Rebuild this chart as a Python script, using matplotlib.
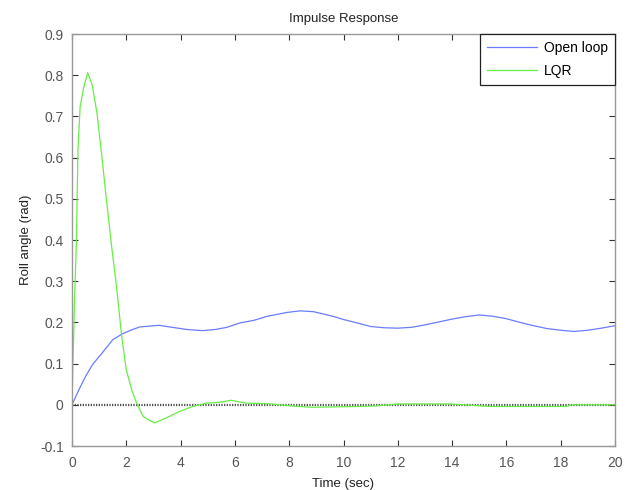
import matplotlib
matplotlib.use('Agg')
import matplotlib.pyplot as plt

plt.rcParams['font.family'] = ['Liberation Sans', 'DejaVu Sans']
plt.rcParams['axes.unicode_minus'] = False

# open loop roll response
t_open = [0, 0.25, 0.5, 0.75, 1.1, 1.5, 1.85, 2.2, 2.5, 3.2, 3.8, 4.2, 4.8, 5.3,
          5.7, 6.2, 6.7, 7.2, 7.9, 8.4, 8.9, 9.6, 10.0, 10.6, 11.0, 11.5, 12.0,
          12.5, 13.0, 13.5, 14.0, 14.5, 15.0, 15.5, 16.0, 16.5, 17.0, 17.5,
          18.0, 18.5, 19.0, 19.5, 20.0]
roll_open = [0, 0.036, 0.069, 0.097, 0.125, 0.158, 0.172, 0.182, 0.189, 0.193,
             0.187, 0.183, 0.180, 0.183, 0.188, 0.199, 0.205, 0.215, 0.224,
             0.228, 0.226, 0.215, 0.207, 0.197, 0.190, 0.187, 0.186, 0.188,
             0.194, 0.201, 0.208, 0.214, 0.218, 0.215, 0.209, 0.200, 0.192,
             0.185, 0.181, 0.178, 0.181, 0.186, 0.192]

# LQR closed loop roll response
t_lqr = [0, 0.02, 0.1, 0.16, 0.22, 0.3, 0.43, 0.58, 0.74, 0.92, 1.1, 1.28, 1.46,
         1.64, 1.83, 2.0, 2.2, 2.38, 2.62, 2.8, 3.04, 3.47, 3.96, 4.45, 4.94,
         5.43, 5.86, 6.41, 7.15, 8.13, 8.86, 10.58, 11.1, 12.0, 13.9, 15.4,
         18.2, 18.4, 20.0]
roll_lqr = [0, 0.06, 0.27, 0.39, 0.62, 0.724, 0.77, 0.806, 0.777, 0.708, 0.603,
            0.49, 0.384, 0.287, 0.166, 0.085, 0.036, 0.004, -0.028, -0.036,
            -0.044, -0.032, -0.016, -0.004, 0.004, 0.006, 0.011, 0.004, 0.003,
            -0.003, -0.006, -0.004, -0.003, 0.002, 0.002, -0.004, -0.004, 0.0,
            0.0]

x_ticks = list(range(0, 21, 2))
y_ticks = [-0.1, 0, 0.1, 0.2, 0.3, 0.4, 0.5, 0.6, 0.7, 0.8, 0.9]

fig = plt.figure(figsize=(6.32, 4.9), dpi=100)
ax = fig.add_axes([72 / 632, 44 / 490, 543 / 632, 412 / 490])

ax.plot(t_open, roll_open, color='#6a7cff', lw=0.9, label='Open loop')
ax.plot(t_lqr, roll_lqr, color='#66ee44', lw=0.9, label='LQR')
ax.axhline(0, color='#555555', lw=1.6, ls=(0, (0.6, 0.6)), zorder=1)

ax.set_xlim(0, 20)
ax.set_ylim(-0.1, 0.9)
ax.set_xticks(x_ticks)
ax.set_yticks(y_ticks)
ax.set_xticklabels([f'{v:g}' for v in x_ticks])
ax.set_yticklabels([f'{v:g}' for v in y_ticks])
ax.tick_params(direction='in', length=4, width=0.8, color='#333333',
               labelcolor='#555555', labelsize=10, top=True, right=True)
ax.tick_params(axis='x', pad=7)
ax.tick_params(axis='y', pad=6)
for sp in ax.spines.values():
    sp.set_color('#999999')
    sp.set_linewidth(1.0)

ax.set_title('Impulse Response', fontsize=9.5, color='#222222', pad=9)
ax.set_xlabel('Time (sec)', fontsize=9.5, color='#222222', labelpad=6)
ax.set_ylabel('Roll angle (rad)', fontsize=9.5, color='#222222', labelpad=6)

leg = ax.legend(loc='upper right', fontsize=10, fancybox=False,
                framealpha=1, edgecolor='#222222', borderaxespad=0,
                handlelength=3.6, handletextpad=0.5, borderpad=0.5,
                labelspacing=0.65)
leg.get_frame().set_linewidth(0.9)

fig.savefig('out.png', dpi=100)
